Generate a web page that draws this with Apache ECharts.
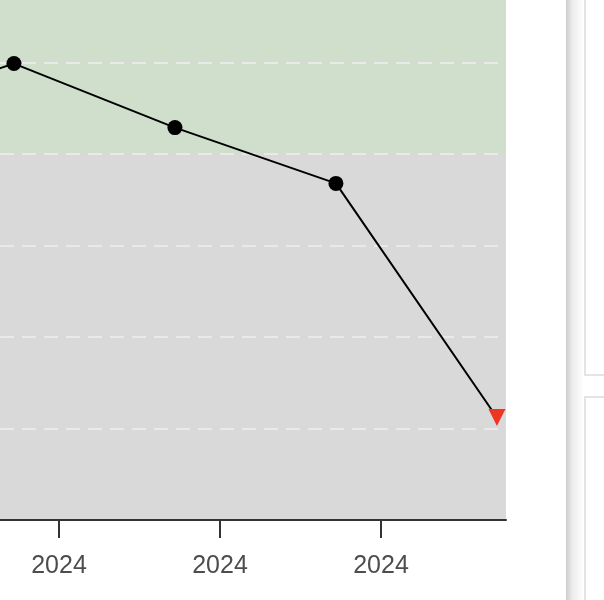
<!DOCTYPE html>
<html>
<head>
<meta charset="utf-8">
<script src="https://cdn.jsdelivr.net/npm/echarts@6/dist/echarts.min.js"></script>
<style>
html,body{margin:0;padding:0;background:#fff;}
#chart{width:604px;height:600px;}
</style>
</head>
<body>
<div id="chart"></div>
<script>
// Data
const xPositions = [-0.28, 0.72, 1.72, 2.72, 3.72];
const values = [44.0, 49.9, 42.9, 36.8, 11.2];
const lastIsAlert = [false, false, false, false, true];
const tickValues = [1, 2, 3];
const tickLabels = ['2024', '2024', '2024'];
const greenBand = [40, 60];
const grayBand = [0, 40];
const xRange = [0.6335, 3.7764];
const yRange = [0, 56.85];

const chart = echarts.init(document.getElementById('chart'), null, {renderer: 'canvas'});

const seriesData = xPositions.map((x, i) => {
  const item = {value: [x, values[i]]};
  if (lastIsAlert[i]) {
    item.symbol = 'triangle';
    item.symbolRotate = 180;
    item.symbolSize = 17;
    item.itemStyle = {color: '#ee3524'};
  }
  return item;
});

const option = {
  backgroundColor: '#ffffff',
  animation: false,
  grid: {left: 0, right: 98, top: 0, bottom: 80, containLabel: false},
  xAxis: {
    type: 'value',
    min: xRange[0],
    max: xRange[1],
    z: 3,
    splitLine: {show: false},
    axisLine: {show: true, onZero: false, lineStyle: {color: '#333333', width: 2}},
    axisTick: {show: true, length: 18, lineStyle: {color: '#333333', width: 2}, customValues: tickValues},
    axisLabel: {
      show: true,
      customValues: tickValues,
      formatter: function (v) { const i = tickValues.indexOf(Math.round(v)); return i >= 0 ? tickLabels[i] : ''; },
      color: '#4d4d4d',
      fontSize: 25,
      fontFamily: 'Liberation Sans, Arial, sans-serif',
      margin: 34
    }
  },
  yAxis: {
    type: 'value',
    min: yRange[0],
    max: yRange[1],
    interval: 10,
    z: 2,
    axisLine: {show: false},
    axisTick: {show: false},
    axisLabel: {show: false},
    splitLine: {show: true, showMinLine: false, showMaxLine: false, lineStyle: {color: '#e9e9e9', width: 2, type: [14, 8]}}
  },
  graphic: [
    {
      type: 'rect',
      shape: {x: 566, y: 0, width: 18, height: 600},
      style: {
        fill: new echarts.graphic.LinearGradient(0, 0, 1, 0, [
          {offset: 0, color: '#cdcdcd'},
          {offset: 0.35, color: '#ececec'},
          {offset: 1, color: '#ffffff'}
        ])
      },
      silent: true
    },
    {
      type: 'rect',
      shape: {x: 585, y: -10, width: 40, height: 385},
      style: {fill: '#ffffff', stroke: '#e4e4e4', lineWidth: 2},
      silent: true
    },
    {
      type: 'rect',
      shape: {x: 585, y: 397, width: 40, height: 260},
      style: {fill: '#ffffff', stroke: '#e4e4e4', lineWidth: 2},
      silent: true
    }
  ],
  series: [
    {
      type: 'line',
      z: 1,
      data: [],
      markArea: {
        silent: true,
        z: 1,
        itemStyle: {borderWidth: 0},
        data: [
          [{yAxis: greenBand[0], itemStyle: {color: '#cfdfcc'}}, {yAxis: greenBand[1]}],
          [{yAxis: grayBand[0], itemStyle: {color: '#d9d9d9'}}, {yAxis: grayBand[1]}]
        ]
      }
    },
    {
      type: 'line',
      z: 5,
      data: seriesData,
      symbol: 'circle',
      symbolSize: 15,
      showAllSymbol: true,
      itemStyle: {color: '#000000'},
      lineStyle: {color: '#000000', width: 2},
      clip: true
    }
  ]
};

chart.setOption(option);
</script>
</body>
</html>
